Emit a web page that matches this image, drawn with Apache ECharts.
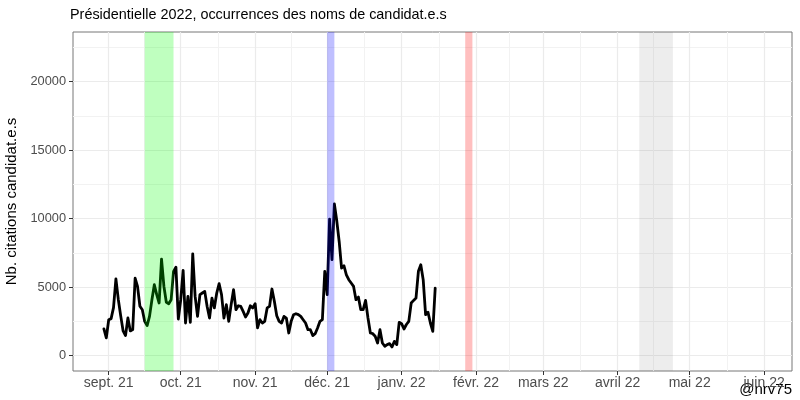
<!DOCTYPE html>
<html><head><meta charset="utf-8">
<script src="https://cdn.jsdelivr.net/npm/echarts@6/dist/echarts.min.js"></script>
<style>html,body{margin:0;padding:0;background:#fff}#c{width:800px;height:400px}</style>
</head><body><div id="c"></div>
<script>
// ---- data ----
const firstDay = [2021, 7, 30]; // 30 Aug 2021, daily series
const citations = [
1950,1290,2620,2700,3500,5600,4100,2900,1800,1460,
2750,1800,1900,5650,5050,3600,3350,2500,2190,2860,
4080,5175,4450,3840,7050,5050,3890,3790,4080,6150,
6460,2670,4080,6220,2380,4320,2430,7430,4320,2860,
4450,4570,4690,3590,2740,4200,3480,4570,5250,4450,
2740,3720,2500,3720,4810,3350,3640,3590,3230,2820,
3110,3640,3480,3790,2020,2620,2380,2500,3480,3590,
4860,3960,2910,2500,2380,2860,2740,1650,2500,2980,
3060,2990,2860,2620,2380,1890,1890,1460,1600,2020,
2500,2620,6150,4450,9960,7000,11080,9840,8330,6390,
6560,5900,5540,5300,5050,4080,4270,3350,3350,4030,
2740,1650,1600,1410,920,1890,920,680,800,870,
630,1040,800,2430,2330,1940,2270,2500,3840,4030,
4200,6150,6630,5540,2990,3160,2380,1770,4930
];
const monthTicks = ['2021-09-01','2021-10-01','2021-11-01','2021-12-01','2022-01-01','2022-02-01','2022-03-01','2022-04-01','2022-05-01','2022-06-01'];
const monthLabels = ['sept. 21','oct. 21','nov. 21','déc. 21','janv. 22','févr. 22','mars 22','avril 22','mai 22','juin 22'];
const minorXGrid = ['2021-08-17','2021-09-16','2021-10-16T12:00','2021-11-16','2021-12-16T12:00','2022-01-16T12:00','2022-02-15','2022-03-16T12:00','2022-04-16','2022-05-16T12:00'];
const yTicks = [0, 5000, 10000, 15000, 20000];
const yMinor = [2500, 7500, 12500, 17500, 22500];
const xRange = ['2021-08-17T03:00', '2022-06-12T15:00'];
const yRange = [-1125, 23625];
const periods = [
  { from: '2021-09-16', to: '2021-09-28', color: 'rgba(0,255,0,0.25)' },
  { from: '2021-12-01', to: '2021-12-04', color: 'rgba(0,0,255,0.25)' },
  { from: '2022-01-27T12:00', to: '2022-01-30T12:00', color: 'rgba(255,0,0,0.25)' },
  { from: '2022-04-10', to: '2022-04-24', color: 'rgba(128,128,128,0.14)' }
];

// ---- helpers ----
function ts(s) {
  const [d, t] = s.split('T');
  const [y, m, dd] = d.split('-').map(Number);
  let h = 0, mi = 0;
  if (t) { [h, mi] = t.split(':').map(Number); }
  return Date.UTC(y, m - 1, dd, h, mi);
}
const DAY = 86400000;
const t0 = Date.UTC(firstDay[0], firstDay[1], firstDay[2]);
const lineData = citations.map((v, i) => [t0 + i * DAY, v]);
const tickTs = monthTicks.map(ts);
const FONT = '"Liberation Sans", Arial, Helvetica, sans-serif';

const gridLines = [];
yMinor.forEach(v => gridLines.push({ yAxis: v, lineStyle: { color: '#F2F2F2', width: 1, type: 'solid' } }));
yTicks.forEach(v => gridLines.push({ yAxis: v, lineStyle: { color: '#EBEBEB', width: 1.2, type: 'solid' } }));
minorXGrid.forEach(s => gridLines.push({ xAxis: ts(s), lineStyle: { color: '#F2F2F2', width: 1, type: 'solid' } }));
tickTs.forEach(v => gridLines.push({ xAxis: v, lineStyle: { color: '#EBEBEB', width: 1.2, type: 'solid' } }));

const chart = echarts.init(document.getElementById('c'), null, { renderer: 'canvas' });
chart.setOption({
  animation: false,
  backgroundColor: '#fff',
  textStyle: { fontFamily: FONT },
  title: {
    text: 'Présidentielle 2022, occurrences des noms de candidat.e.s',
    left: 65, top: 3,
    textStyle: { fontFamily: FONT, fontSize: 14.4, fontWeight: 'normal', color: '#000' }
  },
  grid: { left: 73, right: 8, top: 32, bottom: 29, outerBoundsMode: 'none', containLabel: false, show: true, borderColor: '#777', borderWidth: 1, backgroundColor: 'transparent' },
  xAxis: {
    type: 'value',
    min: ts(xRange[0]), max: ts(xRange[1]),
    splitLine: { show: false },
    axisLine: { show: false, onZero: false },
    axisTick: { show: true, customValues: tickTs, length: 4, lineStyle: { color: '#333' } },
    axisLabel: {
      customValues: tickTs,
      margin: 5,
      color: '#4D4D4D', fontSize: 14, fontFamily: FONT,
      formatter: function (v) {
        const i = tickTs.indexOf(v);
        return i >= 0 ? monthLabels[i] : '';
      }
    }
  },
  yAxis: {
    type: 'value',
    min: yRange[0], max: yRange[1],
    name: 'Nb. citations candidat.e.s',
    nameLocation: 'middle', nameRotate: 90, nameGap: 51,
    nameTextStyle: { color: '#000', fontSize: 15, fontFamily: FONT },
    splitLine: { show: false },
    axisLine: { show: false, onZero: false },
    axisTick: { show: true, customValues: yTicks, length: 4, lineStyle: { color: '#333' } },
    axisLabel: { customValues: yTicks, margin: 7, color: '#4D4D4D', fontSize: 12.8, fontFamily: FONT,
      formatter: function (v) { return String(v); } }
  },
  graphic: [{
    type: 'text', right: 8, bottom: 3,
    style: { text: '@nrv75', fontSize: 15, fontFamily: FONT, fill: '#000' }
  }],
  series: [
    {
      type: 'line', data: [], z: 1, silent: true,
      markLine: { z: 0, silent: true, symbol: ['none', 'none'], label: { show: false }, animation: false, data: gridLines }
    },
    {
      type: 'line', data: lineData, z: 2, symbol: 'none', smooth: false,
      lineStyle: { color: '#000', width: 2.8, join: 'round', cap: 'round' }
    },
    {
      type: 'line', data: [], z: 3, silent: true,
      markArea: {
        z: 10,
        silent: true,
        data: periods.map(p => [{ xAxis: ts(p.from), itemStyle: { color: p.color } }, { xAxis: ts(p.to) }])
      }
    }
  ]
});
</script></body></html>
